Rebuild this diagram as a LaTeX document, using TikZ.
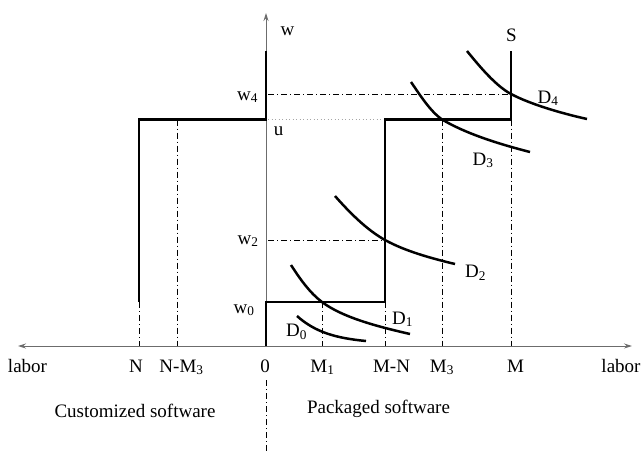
\documentclass[tikz,border=0pt]{standalone}
\usepackage{fontspec}
\setmainfont{Liberation Serif}
\usetikzlibrary{arrows.meta}
\newcommand\labfont{\fontsize{19}{23}\selectfont}
\newcommand\lsub[1]{\textsubscript{#1}}
\tikzset{
  supply/.style={line width=2.8pt, line join=miter, line cap=butt},
  axisline/.style={line width=0.9pt, gray!85!black},
  dashdot/.style={line width=1pt, dash pattern=on 6pt off 3pt on 1pt off 3pt},
  dotline/.style={line width=0.9pt, gray!70, dash pattern=on 0.9pt off 2.6pt},
  demand/.style={line width=2.5pt, line cap=butt},
  lbl/.style={font=\labfont, anchor=base, inner sep=0pt}
}
\begin{document}
\begin{tikzpicture}[x=1pt,y=-1pt]
\useasboundingbox (0,0) rectangle (642,451);
% coordinates
\coordinate (O) at (266,346);
\coordinate (AL) at (18,346);
\coordinate (AR) at (632,346);
\coordinate (AT) at (266,13);
\coordinate (OB) at (266,451);
\coordinate (OL) at (266,380);
% axes
\draw[axisline, -{Stealth[length=8pt,width=5pt]}] (O) -- (AL);
\draw[axisline, -{Stealth[length=8pt,width=5pt]}] (O) -- (AR);
\draw[axisline, -{Stealth[length=8pt,width=5pt]}] (O) -- (AT);
\draw[dashdot] (OL) -- (OB);
% key points
\coordinate (N0) at (139,346);   \coordinate (Nt) at (139,302);
\coordinate (NM0) at (177,346);  \coordinate (NMt) at (177,119.5);
\coordinate (M10) at (322,346);  \coordinate (M1t) at (322,302);
\coordinate (MN0) at (385,346);  \coordinate (MNt) at (385,302);
\coordinate (MNu) at (385,119.5);
\coordinate (M30) at (442,346);  \coordinate (M3t) at (442,119.5);
\coordinate (M0) at (511,346);   \coordinate (Mt) at (511,119.5);
\coordinate (Mw4) at (511,94);   \coordinate (Stop) at (511,51);
\coordinate (Yw4) at (268,94);
\coordinate (Yu) at (268,119.5);
\coordinate (Yw2) at (268,240);  \coordinate (MNw2) at (385,240);
\coordinate (Yw0) at (266,302);
\coordinate (Yu0) at (266,119.5); \coordinate (Ytop) at (266,51);
% dash-dot guides
\draw[dashdot] (Nt) -- (N0);
\draw[dashdot] (NMt) -- (NM0);
\draw[dashdot] (M1t) -- (M10);
\draw[dashdot] (MNt) -- (MN0);
\draw[dashdot] (M3t) -- (M30);
\draw[dashdot] (Mt) -- (M0);
\draw[dashdot] (Yw4) -- (Mw4);
\draw[dashdot] (Yw2) -- (MNw2);
\draw[dotline] (Yu) -- (MNu);
% supply curves
\draw[supply] (Nt) -- (139,119.5) -- (Yu0) -- (Ytop);
\draw[supply] (O) -- (Yw0) -- (MNt) -- (MNu) -- (Mt) -- (Stop);
% demand curves
\draw[demand] (467,51) .. controls (480,67) and (496,86) .. (Mw4)
  .. controls (530,104) and (560,113) .. (587,119);
\draw[demand] (411,82) .. controls (420,95) and (430,111) .. (M3t)
  .. controls (465,133) and (495,143) .. (530,152);
\draw[demand] (335,196) .. controls (350,213) and (367,230) .. (MNw2)
  .. controls (405,251) and (430,258) .. (455,264);
\draw[demand] (291,265) .. controls (300,279) and (310,293) .. (M1t)
  .. controls (342,317) and (375,326) .. (410,334);
\draw[demand] (297,316) .. controls (315,332) and (335,338) .. (366,341);
% labels
\node[lbl] (tw) at (287.5,35) {w};
\node[lbl] (tS) at (511.5,41) {S};
\node[lbl] (tw4) at (247.5,100) {w\lsub{4}};
\node[lbl] (tu) at (278.5,135.5) {u};
\node[lbl] (tw2) at (248,244) {w\lsub{2}};
\node[lbl] (tw0) at (244,313) {w\lsub{0}};
\node[lbl] (tD0) at (296.5,336.5) {D\lsub{0}};
\node[lbl] (tD1) at (402.5,324) {D\lsub{1}};
\node[lbl] (tD2) at (475.5,277.5) {D\lsub{2}};
\node[lbl] (tD3) at (483,165) {D\lsub{3}};
\node[lbl] (tD4) at (548,103) {D\lsub{4}};
\node[lbl] (tlabL) at (27.5,372) {labor};
\node[lbl] (tN) at (136,372) {N};
\node[lbl] (tNM3) at (181.5,372) {N-M\lsub{3}};
\node[lbl] (t0) at (265,372) {0};
\node[lbl] (tM1) at (322.5,372) {M\lsub{1}};
\node[lbl] (tMN) at (391.5,372) {M-N};
\node[lbl] (tM3) at (442,372) {M\lsub{3}};
\node[lbl] (tM) at (515.5,372) {M};
\node[lbl] (tlabR) at (621,372) {labor};
\node[lbl] (tcust) at (135,417) {Customized software};
\node[lbl] (tpack) at (378.5,413) {Packaged software};
\end{tikzpicture}
\end{document}
